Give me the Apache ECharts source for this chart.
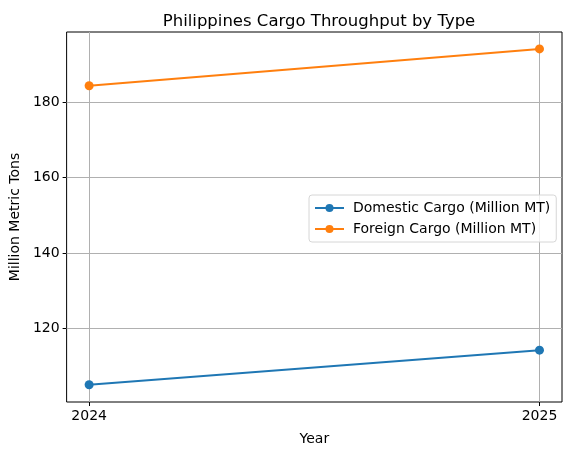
<!DOCTYPE html>
<html>
<head>
<meta charset="utf-8">
<script src="https://cdn.jsdelivr.net/npm/echarts@6/dist/echarts.min.js"></script>
<style>
  html,body{margin:0;padding:0;background:#fff;}
  #chart{width:571px;height:455px;}
</style>
</head>
<body>
<div id="chart"></div>
<script>
// data
var years = [2024, 2025];
var domestic = [104.9, 114.1];
var foreign = [184.5, 194.3];
var yTicks = [120, 140, 160, 180];
var seriesNames = ['Domestic Cargo (Million MT)', 'Foreign Cargo (Million MT)'];

var font = 'DejaVu Sans';
var chart = echarts.init(document.getElementById('chart'));

function pairs(vals) {
    return years.map(function (y, i) { return [y, vals[i]]; });
}

var option = {
    animation: false,
    textStyle: { fontFamily: font },
    title: {
        text: 'Philippines Cargo Throughput by Type',
        left: 314, top: 8, textAlign: 'center',
        textStyle: { fontFamily: font, fontSize: 16.5, fontWeight: 'normal', color: '#000' }
    },
    legend: {
        orient: 'vertical',
        left: 309, top: 195,
        padding: [6, 6, 6, 5],
        itemWidth: 29, itemHeight: 10, itemGap: 7,
        backgroundColor: 'rgba(255,255,255,0.8)',
        borderColor: '#d6d6d6', borderWidth: 1, borderRadius: 3,
        textStyle: { fontFamily: font, fontSize: 14, color: '#000', padding: [0, 0, 0, 4] },
        data: seriesNames
    },
    grid: { left: 66, right: 9, top: 32, bottom: 53, show: true, borderColor: '#000', borderWidth: 1, backgroundColor: 'transparent' },
    xAxis: {
        type: 'value', min: 2023.95, max: 2025.05,
        name: 'Year', nameLocation: 'middle', nameGap: 30,
        nameTextStyle: { fontFamily: font, fontSize: 14, color: '#000' },
        axisLine: { show: false },
        axisTick: { show: true, length: 4, lineStyle: { color: '#000' }, customValues: years },
        axisLabel: { fontFamily: font, fontSize: 14, color: '#000', margin: 7, customValues: years, formatter: function (v) { return String(v); } },
        splitLine: { show: false }
    },
    yAxis: {
        type: 'value', min: 100.3, max: 198.8,
        name: 'Million Metric Tons', nameLocation: 'middle', nameGap: 43,
        nameTextStyle: { fontFamily: font, fontSize: 14, color: '#000' },
        axisLine: { show: false },
        axisTick: { show: true, length: 4, lineStyle: { color: '#000' }, customValues: yTicks },
        axisLabel: { fontFamily: font, fontSize: 14, color: '#000', margin: 7, customValues: yTicks },
        splitLine: { show: false }
    },
    series: [
        {
            name: seriesNames[0], type: 'line', data: pairs(domestic),
            symbol: 'circle', symbolSize: 9,
            color: '#1f77b4', lineStyle: { width: 2 }, z: 3,
            markLine: {
                silent: true, symbol: 'none', label: { show: false },
                lineStyle: { color: '#b0b0b0', width: 1, type: 'solid' },
                data: years.map(function (y) { return { xAxis: y }; })
                    .concat(yTicks.map(function (v) { return { yAxis: v }; })),
                z: 1
            }
        },
        {
            name: seriesNames[1], type: 'line', data: pairs(foreign),
            symbol: 'circle', symbolSize: 9,
            color: '#ff7f0e', lineStyle: { width: 2 }, z: 3
        }
    ]
};
chart.setOption(option);
</script>
</body>
</html>
